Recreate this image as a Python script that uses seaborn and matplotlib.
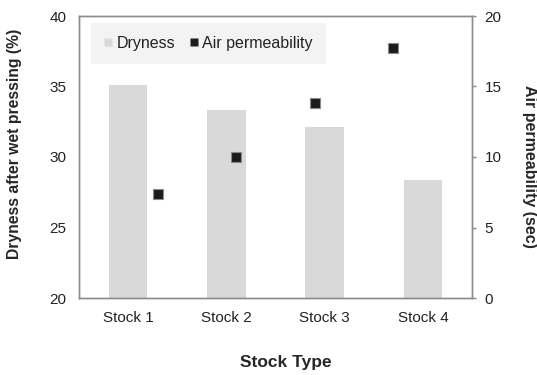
import numpy as np
import pandas as pd
import matplotlib
matplotlib.use("Agg")
import matplotlib.pyplot as plt
import seaborn as sns
from matplotlib.lines import Line2D

stocks = ["Stock 1", "Stock 2", "Stock 3", "Stock 4"]
dryness = [35.1, 33.3, 32.1, 28.4]
air_perm = [7.4, 10.0, 13.85, 17.7]

sns.set_theme(style="white")
plt.rcParams["font.family"] = ["Liberation Sans", "DejaVu Sans"]

W, H = 537, 375
fig = plt.figure(figsize=(W / 100, H / 100), dpi=100)
ax = fig.add_axes([79 / W, 1 - 298 / H, 393 / W, 282 / H])

df = pd.DataFrame({"stock": stocks, "dryness": dryness})
sns.barplot(data=df, x="stock", y="dryness", color="#d9d9d9", saturation=1,
            width=0.39, ax=ax, edgecolor="none")
ax.set_ylim(20, 40)
ax.set_xlim(-0.5, 3.5)
ax.set_yticks([20, 25, 30, 35, 40])
ax.set_xlabel("Stock Type", fontsize=12.5, fontweight="bold", va="center")
ax.xaxis.set_label_coords(0.527, -0.227)
ax.set_ylabel("Dryness after wet pressing (%)", fontsize=11.3, fontweight="bold",
              va="center")
ax.yaxis.set_label_coords(-0.163, 0.545)
ax.tick_params(axis="y", labelsize=11, colors="#222222", length=0, pad=9)
ax.tick_params(axis="x", labelsize=11, colors="#222222", length=0, pad=9)

grey = "#8c8c8c"
for s in ax.spines.values():
    s.set_color(grey)
    s.set_linewidth(1.0)

# secondary value axis
ax2 = ax.twinx()
ax2.set_ylim(0, 20)
ax2.set_yticks([0, 5, 10, 15, 20])
ax2.tick_params(axis="y", labelsize=11, labelcolor="#222222", color=grey,
                length=3, width=1, direction="out", pad=6)
ax2.set_ylabel("Air permeability (sec)", fontsize=11.5, fontweight="bold",
               rotation=270, va="center")
ax2.yaxis.set_label_coords(1.1475, 0.467)
for s in ax2.spines.values():
    s.set_color(grey)
    s.set_linewidth(1.0)

# secondary category axis for the point series
ax3 = ax2.twiny()
ax3.set_xlim(0, len(stocks) + 1)
ax3.set_xticks([])
for s in ax3.spines.values():
    s.set_visible(False)
pts = pd.DataFrame({"pos": np.arange(1, len(stocks) + 1), "air": air_perm})
sns.scatterplot(data=pts, x="pos", y="air", marker="s", s=42, color="#1c1c1c",
                edgecolor="#8a8a8a", linewidth=0.8, ax=ax3, zorder=5)
ax3.set_xlabel("")
ax3.set_ylabel("")

handles = [
    Line2D([], [], marker="s", linestyle="none", markersize=5.5,
           markerfacecolor="#d9d9d9", markeredgecolor="none", label="Dryness"),
    Line2D([], [], marker="s", linestyle="none", markersize=5.5,
           markerfacecolor="#1c1c1c", markeredgecolor="none", label="Air permeability"),
]
leg = ax3.legend(handles=handles, loc="upper left", ncol=2, frameon=True,
                 fontsize=11.5, handlelength=0.5, handletextpad=0.3,
                 columnspacing=0.9, borderpad=0.8, borderaxespad=0,
                 bbox_to_anchor=(12 / 393, 1 - 7 / 282), fancybox=False)
leg.get_frame().set_facecolor("#f0f0f0")
leg.get_frame().set_edgecolor("none")
for t in leg.get_texts():
    t.set_color("#222222")

fig.savefig("out.png", dpi=100)
